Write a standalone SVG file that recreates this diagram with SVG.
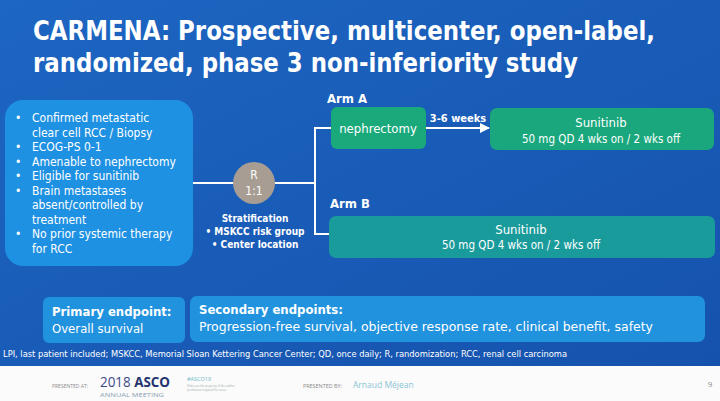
<svg xmlns="http://www.w3.org/2000/svg" width="720" height="401" viewBox="0 0 720 401">
<defs>
<linearGradient id="bg" x1="0" y1="0" x2="1" y2="1">
<stop offset="0" stop-color="#1d66c2"/>
<stop offset="1" stop-color="#1552ad"/>
</linearGradient>
<marker id="ah" viewBox="0 0 10 10" refX="9" refY="5" markerWidth="5" markerHeight="5" orient="auto">
<path d="M0,0 L10,5 L0,10 z" fill="#ffffff"/>
</marker>
</defs>
<style>
.t{font-family:"DejaVu Sans Condensed","DejaVu Sans",sans-serif;fill:#ffffff}
.b{font-weight:bold}
.ln{stroke:#ffffff;stroke-width:2;fill:none}
.ft{font-family:"Open Sans","Liberation Sans",sans-serif}
</style>
<rect x="0" y="0" width="720" height="366" fill="url(#bg)"/>
<rect x="0" y="366" width="720" height="35" fill="#fbfbfb"/>
<g id="title">
<text class="t b" x="33" y="40" font-size="27" textLength="622" lengthAdjust="spacingAndGlyphs">CARMENA: Prospective, multicenter, open-label,</text>
<text class="t b" x="33" y="72" font-size="27" textLength="545" lengthAdjust="spacingAndGlyphs">randomized, phase 3 non-inferiority study</text>
</g>
<g id="connectors">
<line class="ln" x1="193" y1="183" x2="234" y2="183"/>
<line class="ln" x1="275" y1="183" x2="315" y2="183"/>
<polyline class="ln" points="332,128 315,128 315,234 330,234"/>
<line class="ln" x1="425" y1="128" x2="489" y2="128" marker-end="url(#ah)"/>
</g>
<g id="eligibility">
<rect x="5" y="100" width="188" height="166" rx="18" fill="#1f91e2"/>
<g class="t" font-size="12">
<text x="15" y="122">•</text>
<text x="32" y="122">Confirmed metastatic</text>
<text x="32" y="136.5">clear cell RCC / Biopsy</text>
<text x="15" y="151">•</text>
<text x="32" y="151">ECOG-PS 0-1</text>
<text x="15" y="165.5">•</text>
<text x="32" y="165.5">Amenable to nephrectomy</text>
<text x="15" y="180">•</text>
<text x="32" y="180">Eligible for sunitinib</text>
<text x="15" y="194.5">•</text>
<text x="32" y="194.5">Brain metastases</text>
<text x="32" y="209">absent/controlled by</text>
<text x="32" y="223.5">treatment</text>
<text x="15" y="238">•</text>
<text x="32" y="238">No prior systemic therapy</text>
<text x="32" y="252.5">for RCC</text>
</g>
</g>
<g id="randomization">
<circle cx="254" cy="183" r="21" fill="#a79d92"/>
<text class="t" x="254" y="179" font-size="12" text-anchor="middle">R</text>
<text class="t" x="254" y="195" font-size="12" text-anchor="middle">1:1</text>
</g>
<g id="stratification" class="t" font-size="10" text-anchor="middle">
<text class="b" x="255" y="222">Stratification</text>
<text class="b" x="255" y="235">• MSKCC risk group</text>
<text class="b" x="255" y="248">• Center location</text>
</g>
<g id="armA">
<text class="t b" x="327" y="103" font-size="13">Arm A</text>
</g>
<g id="nephrectomy">
<rect x="331" y="107" width="95" height="42" rx="6" fill="#19a97a"/>
<text class="t" x="378" y="133" font-size="13" text-anchor="middle">nephrectomy</text>
</g>
<g id="weeks">
<text class="t b" x="458" y="122" font-size="11" text-anchor="middle">3-6 weeks</text>
</g>
<g id="sunitinibA">
<rect x="490" y="108" width="224" height="42" rx="7" fill="#1aa77d"/>
<text class="t" x="601" y="127" font-size="13" text-anchor="middle">Sunitinib</text>
<text class="t" x="601" y="143" font-size="11.5" text-anchor="middle">50 mg QD 4 wks on / 2 wks off</text>
</g>
<g id="armB">
<text class="t b" x="330" y="208" font-size="13">Arm B</text>
</g>
<g id="sunitinibB">
<rect x="329" y="216" width="386" height="42" rx="7" fill="#1a9b9b"/>
<text class="t" x="521" y="234" font-size="13" text-anchor="middle">Sunitinib</text>
<text class="t" x="521" y="249" font-size="11.5" text-anchor="middle">50 mg QD 4 wks on / 2 wks off</text>
</g>
<g id="primary">
<rect x="43" y="297" width="142" height="46" rx="6" fill="#2192de"/>
<text class="t b" x="52" y="316" font-size="13">Primary endpoint:</text>
<text class="t" x="52" y="333" font-size="13">Overall survival</text>
</g>
<g id="secondary">
<rect x="190" y="296" width="515" height="46" rx="7" fill="#2192de"/>
<text class="t b" x="199" y="314" font-size="13">Secondary endpoints:</text>
<text class="t" x="199" y="331" font-size="13" textLength="454" lengthAdjust="spacingAndGlyphs">Progression-free survival, objective response rate, clinical benefit, safety</text>
</g>
<g id="footnote">
<text class="t" x="3" y="357" font-size="8.5" textLength="564" lengthAdjust="spacingAndGlyphs">LPI, last patient included; MSKCC, Memorial Sloan Kettering Cancer Center; QD, once daily; R, randomization; RCC, renal cell carcinoma</text>
</g>
<g id="footer" class="ft">
<text x="52" y="388" font-size="4.5" fill="#8a8a8a" textLength="36" lengthAdjust="spacingAndGlyphs">PRESENTED AT:</text>
<text x="100" y="387" font-size="14" fill="#3b4a8a" textLength="70" lengthAdjust="spacingAndGlyphs">2018 <tspan font-weight="bold" fill="#23336e">ASCO</tspan></text>
<text x="100" y="397" font-size="6" fill="#8aa0b0" textLength="64" lengthAdjust="spacingAndGlyphs">ANNUAL MEETING</text>
<text x="187" y="381" font-size="5.5" fill="#6fb8c8">#ASCO18</text>
<text x="187" y="387" font-size="2.8" fill="#9aa">Slides are the property of the author,</text>
<text x="187" y="391" font-size="2.8" fill="#9aa">permission required for reuse.</text>
<text x="303" y="388" font-size="4.5" fill="#8a8a8a" textLength="39" lengthAdjust="spacingAndGlyphs">PRESENTED BY:</text>
<text x="353" y="388" font-size="8.5" fill="#8cc4d4">Arnaud Méjean</text>
<text x="710" y="387" font-size="8" fill="#888888" text-anchor="middle">9</text>
</g>
</svg>
